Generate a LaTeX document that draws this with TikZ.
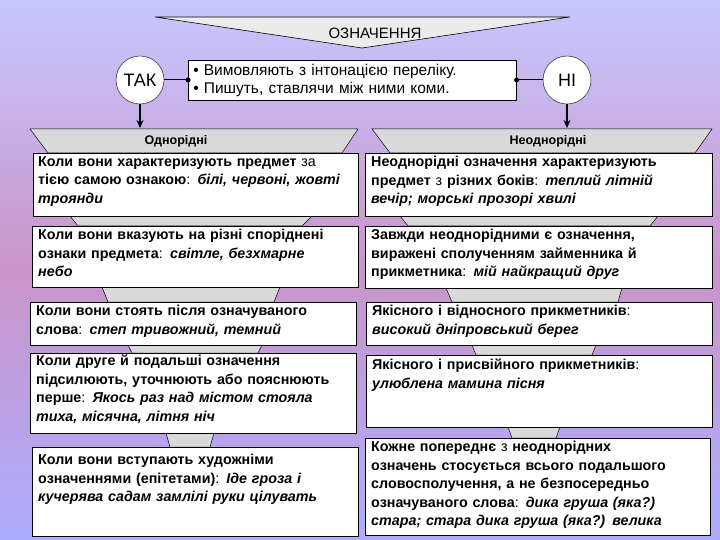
\documentclass[tikz,border=0pt]{standalone}
\usepackage{fontspec}
\setmainfont{Liberation Sans}
\usetikzlibrary{arrows.meta}
\begin{document}
\begin{tikzpicture}[x=1pt,y=-1pt,
  box/.style={draw=black,fill=white,line width=0.6pt},
  gap/.style={draw=black,fill=black!15,line width=0.5pt},
  txt/.style={anchor=north west,align=left,font=\bfseries\fontsize{14.3}{18.5}\selectfont,inner sep=0pt},
  circ/.style={draw=black,fill=white,circle,minimum size=48pt,font=\fontsize{18}{20}\selectfont,inner sep=0pt}]
\useasboundingbox (0,0) rectangle (720,540);
\shade[top color=blue!22!white, bottom color=blue!32!white, middle color=violet!42!white] (0,0) rectangle (720,540);
% top triangle
\draw[fill=black!8,line width=0.6pt] (155,17) -- (570,17) -- (362,48) -- cycle;
\node[font=\fontsize{15}{17}\selectfont,fill=black!8,inner sep=1pt] (title) at (375,33) {ОЗНАЧЕННЯ};
% circles and central box
\node[circ] (tak) at (140,80) {ТАК};
\node[circ] (ni) at (567,80) {НІ};
\node[draw=black,fill=white,line width=0.6pt,minimum width=328pt,minimum height=40pt,anchor=west,align=left,font=\fontsize{15.5}{18}\selectfont,text width=318pt] (mid) at (188,80) {• Вимовляють з інтонацією переліку.\\• Пишуть, ставлячи між ними коми.};
\draw[line width=1pt] (tak) -- (mid.west);
\fill (mid.west) circle (2.5pt);
\draw[line width=1pt] (ni) -- (mid.east);
\fill (mid.east) circle (2.5pt);
% header trapezoids
\draw[gap] (30,129) -- (358,129) -- (342,153) -- (48,153) -- cycle;
\node[font=\bfseries\fontsize{12.5}{14}\selectfont] (hl) at (176,141) {Однорідні};
\draw[gap] (372,129) -- (712,129) -- (695,153) -- (390,153) -- cycle;
\node[font=\bfseries\fontsize{12.5}{14}\selectfont] (hr) at (548,141) {Неоднорідні};
\coordinate (ta) at (140,128);
\coordinate (na) at (567,128);
\draw[-{Stealth[length=8pt,width=7pt]},line width=1.2pt] (tak.south) -- (ta);
\draw[-{Stealth[length=8pt,width=7pt]},line width=1.2pt] (ni.south) -- (na);
% gap trapezoids
\draw[gap] (70,216) -- (312,216) -- (302,226) -- (78,226) -- cycle;
\draw[gap] (102,287) -- (280,287) -- (274,302) -- (108,302) -- cycle;
\draw[gap] (128,345) -- (262,345) -- (258,353) -- (132,353) -- cycle;
\draw[gap] (166,433) -- (214,433) -- (210,447) -- (170,447) -- cycle;
\draw[gap] (400,216) -- (658,216) -- (650,226) -- (408,226) -- cycle;
\draw[gap] (446,288) -- (622,288) -- (618,302) -- (452,302) -- cycle;
\draw[gap] (472,345) -- (596,345) -- (592,355) -- (476,355) -- cycle;
\draw[gap] (508,427) -- (560,427) -- (556,438) -- (512,438) -- cycle;
% left boxes
\draw[box] (33,153) rectangle (358,216);
\node[txt,text width=318pt] (l1) at (38,156) {Коли вони характеризують предмет \textmd{за}\\тією самою ознакою\textmd{:} \textit{білі, червоні, жовті}\\\textit{троянди}};
\draw[box] (32,226) rectangle (358,287);
\node[txt,text width=318pt] (l2) at (38,229) {Коли вони вказують на різні споріднені\\ознаки предмета\textmd{:} \textit{світле, безхмарне}\\\textit{небо}};
\draw[box] (30,302) rectangle (356,345);
\node[txt,text width=318pt] (l3) at (36,305) {Коли вони стоять після означуваного\\слова\textmd{:} \textit{степ тривожний, темний}};
\draw[box] (30,353) rectangle (356,433);
\node[txt,text width=318pt] (l4) at (36,355) {Коли друге й подальші означення\\підсилюють, уточнюють або пояснюють\\перше\textmd{:} \textit{Якось раз над містом стояла}\\\textit{тиха, місячна, літня ніч}};
\draw[box] (32,447) rectangle (358,536);
\node[txt,text width=318pt] (l5) at (38,454) {Коли вони вступають художніми\\означеннями (епітетами)\textmd{:} \textit{Іде гроза і}\\\textit{кучерява садам замлілі руки цілувать}};
% right boxes
\draw[box] (365,153) rectangle (712,216);
\node[txt,text width=340pt] (r1) at (371,156) {Неоднорідні означення характеризують\\предмет \textmd{з} різних боків\textmd{:} \textit{теплий літній}\\\textit{вечір; морські прозорі хвилі}};
\draw[box] (365,226) rectangle (712,288);
\node[txt,text width=340pt] (r2) at (371,229) {Завжди неоднорідними є означення,\\виражені сполученням займенника й\\прикметника\textmd{:} \textit{мій найкращий друг}};
\draw[box] (366,302) rectangle (712,345);
\node[txt,text width=340pt] (r3) at (372,305) {Якісного і відносного прикметників\textmd{:}\\\textit{високий дніпровський берег}};
\draw[box] (366,355) rectangle (712,427);
\node[txt,text width=340pt] (r4) at (372,359) {Якісного і присвійного прикметників\textmd{:}\\\textit{улюблена мамина пісня}};
\draw[box] (365,438) rectangle (710,535);
\node[txt,text width=340pt] (r5) at (371,441) {Кожне попереднє \textmd{з} неоднорідних\\означень стосується всього подальшого\\словосполучення, а не безпосередньо\\означуваного слова\textmd{:} \textit{дика груша (яка?)}\\\textit{стара; стара дика груша (яка?) велика}};
\end{tikzpicture}
\end{document}
